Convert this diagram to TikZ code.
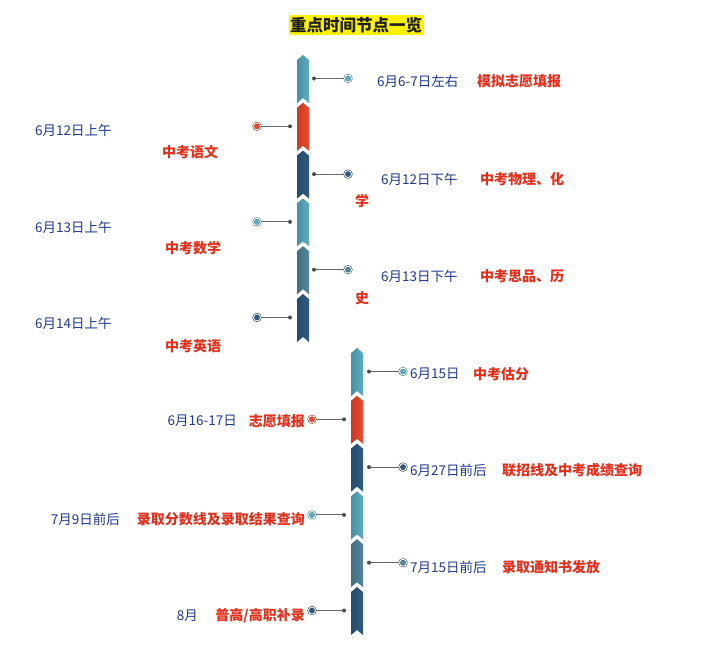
\documentclass[tikz,border=0pt]{standalone}
\usepackage{fontspec}
\setmainfont{Noto Sans CJK SC}
\definecolor{cteal}{HTML}{5AAFC4}
\definecolor{cred}{HTML}{F04A2E}
\definecolor{cnavy}{HTML}{2F5B82}
\definecolor{csteel}{HTML}{52879C}
\definecolor{tblue}{HTML}{1F3A8F}
\definecolor{tred}{HTML}{E3301C}
\newcommand\segm[4]{% name, cx, top, color
  \shade[left color=#4!82!black, right color=#4]
    (#2,#3) -- (#2+6,#3+5) -- (#2+6,#3+48) -- (#2,#3+43) -- (#2-6,#3+48) -- (#2-6,#3+5) -- cycle;
  \coordinate (#1) at (#2,#3+23.5);
}
\tikzset{
  smalldot/.style={circle, fill=black!70, inner sep=0pt, minimum size=4pt},
  ring/.style={circle, fill=#1, draw=#1!75!black, double=white, double distance=0.9pt, line width=0.6pt, inner sep=0pt, minimum size=7pt},
  conn/.style={draw=black!60, line width=1pt},
  dtxt/.style={text=tblue, inner sep=0pt, font=\fontsize{13.5}{16}\selectfont},
  etxt/.style={text=tred, inner sep=0pt, font=\fontsize{14}{16}\selectfont\bfseries},
}
\begin{document}
\begin{tikzpicture}[x=1pt,y=-1pt]
\useasboundingbox[fill=white] (0,0) rectangle (714,648);
% title
\node[fill=yellow, text=black!88, inner xsep=1.5pt, inner ysep=2pt, font=\fontsize{16.5}{18}\selectfont\bfseries] (title) at (356,25) {重点时间节点一览};
% column 1
\segm{s1}{303}{55}{cteal}
\segm{s2}{303}{102.8}{cred}
\segm{s3}{303}{150.6}{cnavy}
\segm{s4}{303}{198.4}{cteal}
\segm{s5}{303}{246.2}{csteel}
\segm{s6}{303}{294}{cnavy}
% column 2
\segm{s7}{357}{348}{cteal}
\segm{s8}{357}{395.8}{cred}
\segm{s9}{357}{443.6}{cnavy}
\segm{s10}{357}{491.4}{cteal}
\segm{s11}{357}{539.2}{csteel}
\segm{s12}{357}{587}{cnavy}
% connectors column 1
\node[smalldot] (d1) at (314,78.5) {};  \node[ring=cteal]  (c1) at (348,78.5) {};
\node[smalldot] (d2) at (290,126.3) {}; \node[ring=cred]   (c2) at (257,126.3) {};
\node[smalldot] (d3) at (314,174.1) {}; \node[ring=cnavy]  (c3) at (348,174.1) {};
\node[smalldot] (d4) at (290,221.9) {}; \node[ring=cteal]  (c4) at (257,221.9) {};
\node[smalldot] (d5) at (314,269.7) {}; \node[ring=csteel] (c5) at (348,269.7) {};
\node[smalldot] (d6) at (290,317.5) {}; \node[ring=cnavy]  (c6) at (257,317.5) {};
% connectors column 2
\node[smalldot] (d7) at (369,371.5) {};  \node[ring=cteal]  (c7) at (403,371.5) {};
\node[smalldot] (d8) at (344,419.3) {};  \node[ring=cred]   (c8) at (312,419.3) {};
\node[smalldot] (d9) at (369,467.1) {};  \node[ring=cnavy]  (c9) at (403,467.1) {};
\node[smalldot] (d10) at (344,514.9) {}; \node[ring=cteal]  (c10) at (312,514.9) {};
\node[smalldot] (d11) at (369,562.7) {}; \node[ring=csteel] (c11) at (403,562.7) {};
\node[smalldot] (d12) at (344,610.5) {}; \node[ring=cnavy]  (c12) at (312,610.5) {};
\foreach \i in {1,...,12} {\draw[conn] (d\i) -- (c\i);}
% texts
\node[dtxt, anchor=west] (a1) at (377,81) {6月6-7日左右};
\node[etxt, anchor=west] (b1) at (477,81) {模拟志愿填报};
\node[dtxt, anchor=west] (a2) at (35,130) {6月12日上午};
\node[etxt, anchor=west] (b2) at (162,152) {中考语文};
\node[dtxt, anchor=west] (a3) at (381,179) {6月12日下午};
\node[etxt, anchor=west] (b3) at (480,179) {中考物理、化};
\node[etxt, anchor=west] (b3b) at (355,201) {学};
\node[dtxt, anchor=west] (a4) at (35,227) {6月13日上午};
\node[etxt, anchor=west] (b4) at (165,248) {中考数学};
\node[dtxt, anchor=west] (a5) at (381,276) {6月13日下午};
\node[etxt, anchor=west] (b5) at (480,276) {中考思品、历};
\node[etxt, anchor=west] (b5b) at (355,298) {史};
\node[dtxt, anchor=west] (a6) at (35,323) {6月14日上午};
\node[etxt, anchor=west] (b6) at (165,346) {中考英语};
\node[dtxt, anchor=west] (a7) at (410,374) {6月15日};
\node[etxt, anchor=west] (b7) at (473,374) {中考估分};
\node[dtxt, anchor=east] (a8) at (237,421) {6月16-17日};
\node[etxt, anchor=east] (b8) at (305,421) {志愿填报};
\node[dtxt, anchor=west] (a9) at (410,470) {6月27日前后};
\node[etxt, anchor=west] (b9) at (502,470) {联招线及中考成绩查询};
\node[dtxt, anchor=east] (a10) at (120,519) {7月9日前后};
\node[etxt, anchor=east] (b10) at (305,519) {录取分数线及录取结果查询};
\node[dtxt, anchor=west] (a11) at (410,567) {7月15日前后};
\node[etxt, anchor=west] (b11) at (502,567) {录取通知书发放};
\node[dtxt, anchor=east] (a12) at (198,616) {8月};
\node[etxt, anchor=east] (b12) at (305,616) {普高/高职补录};
\end{tikzpicture}
\end{document}
